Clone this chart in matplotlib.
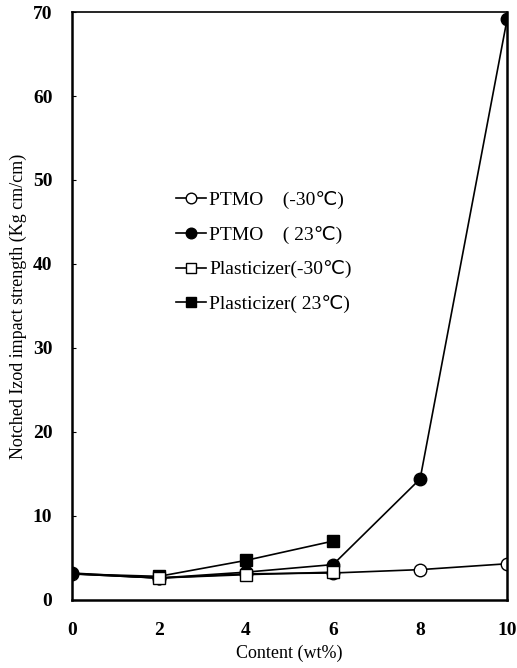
import numpy as np
import matplotlib.pyplot as plt

plt.rcParams['font.family'] = ['Liberation Serif', 'DejaVu Sans']

content = [0, 2, 4, 6, 8, 10]
ptmo_m30 = [3.1, 2.6, 3.1, 3.2, 3.6, 4.3]
ptmo_23 = [3.2, 2.6, 3.3, 4.2, 14.4, 69.2]
content_pl = [0, 2, 4, 6]
plast_m30 = [3.1, 2.6, 3.0, 3.3]
plast_23 = [3.1, 2.8, 4.7, 7.0]

labels = ["PTMO    (-30\u2103)", "PTMO    ( 23\u2103)",
          "Plasticizer(-30\u2103)", "Plasticizer( 23\u2103)"]

fig = plt.figure(figsize=(5.17, 6.68), dpi=100)
ax = fig.add_axes([0.139, 0.102, 0.842, 0.880])

# plasticizer curves share the neat-resin point at 0 wt%
ax.plot(content, ptmo_m30, '-o', color='black', mfc='white', mec='black',
        ms=9, lw=1.2, label=labels[0], zorder=2)
ax.plot(content, ptmo_23, '-o', color='black', mfc='black',
        ms=9, lw=1.2, label=labels[1], zorder=3)
ax.plot(content_pl, plast_m30, '-s', color='black', mfc='white', mec='black',
        ms=9, lw=1.2, label=labels[2], zorder=5, markevery=[1, 2, 3])
ax.plot(content_pl, plast_23, '-s', color='black', mfc='black',
        ms=9, lw=1.2, label=labels[3], zorder=4, markevery=[1, 2, 3])

ax.set_xlim(0, 10)
ax.set_ylim(0, 70)
ax.set_xticks(content)
ax.set_yticks(np.arange(0, 71, 10))
ax.tick_params(axis='y', direction='in', length=3, labelsize=14, pad=14)
ax.tick_params(axis='x', length=0, labelsize=14, pad=16)
for lab in ax.get_xticklabels() + ax.get_yticklabels():
    lab.set_fontweight('bold')
for s in ax.spines.values():
    s.set_linewidth(1.8)
ax.spines['top'].set_linewidth(1.2)

ax.set_xlabel("Content (wt%)", fontsize=13, labelpad=4)
ax.set_ylabel("Notched Izod impact strength (Kg cm/cm)", fontsize=13, labelpad=4)

leg = ax.legend(loc='upper left', bbox_to_anchor=(0.2, 0.725), frameon=False,
                fontsize=14, handlelength=1.5, handletextpad=0.2,
                labelspacing=0.85, markerscale=0.85)

fig.savefig("out.png", dpi=100)
